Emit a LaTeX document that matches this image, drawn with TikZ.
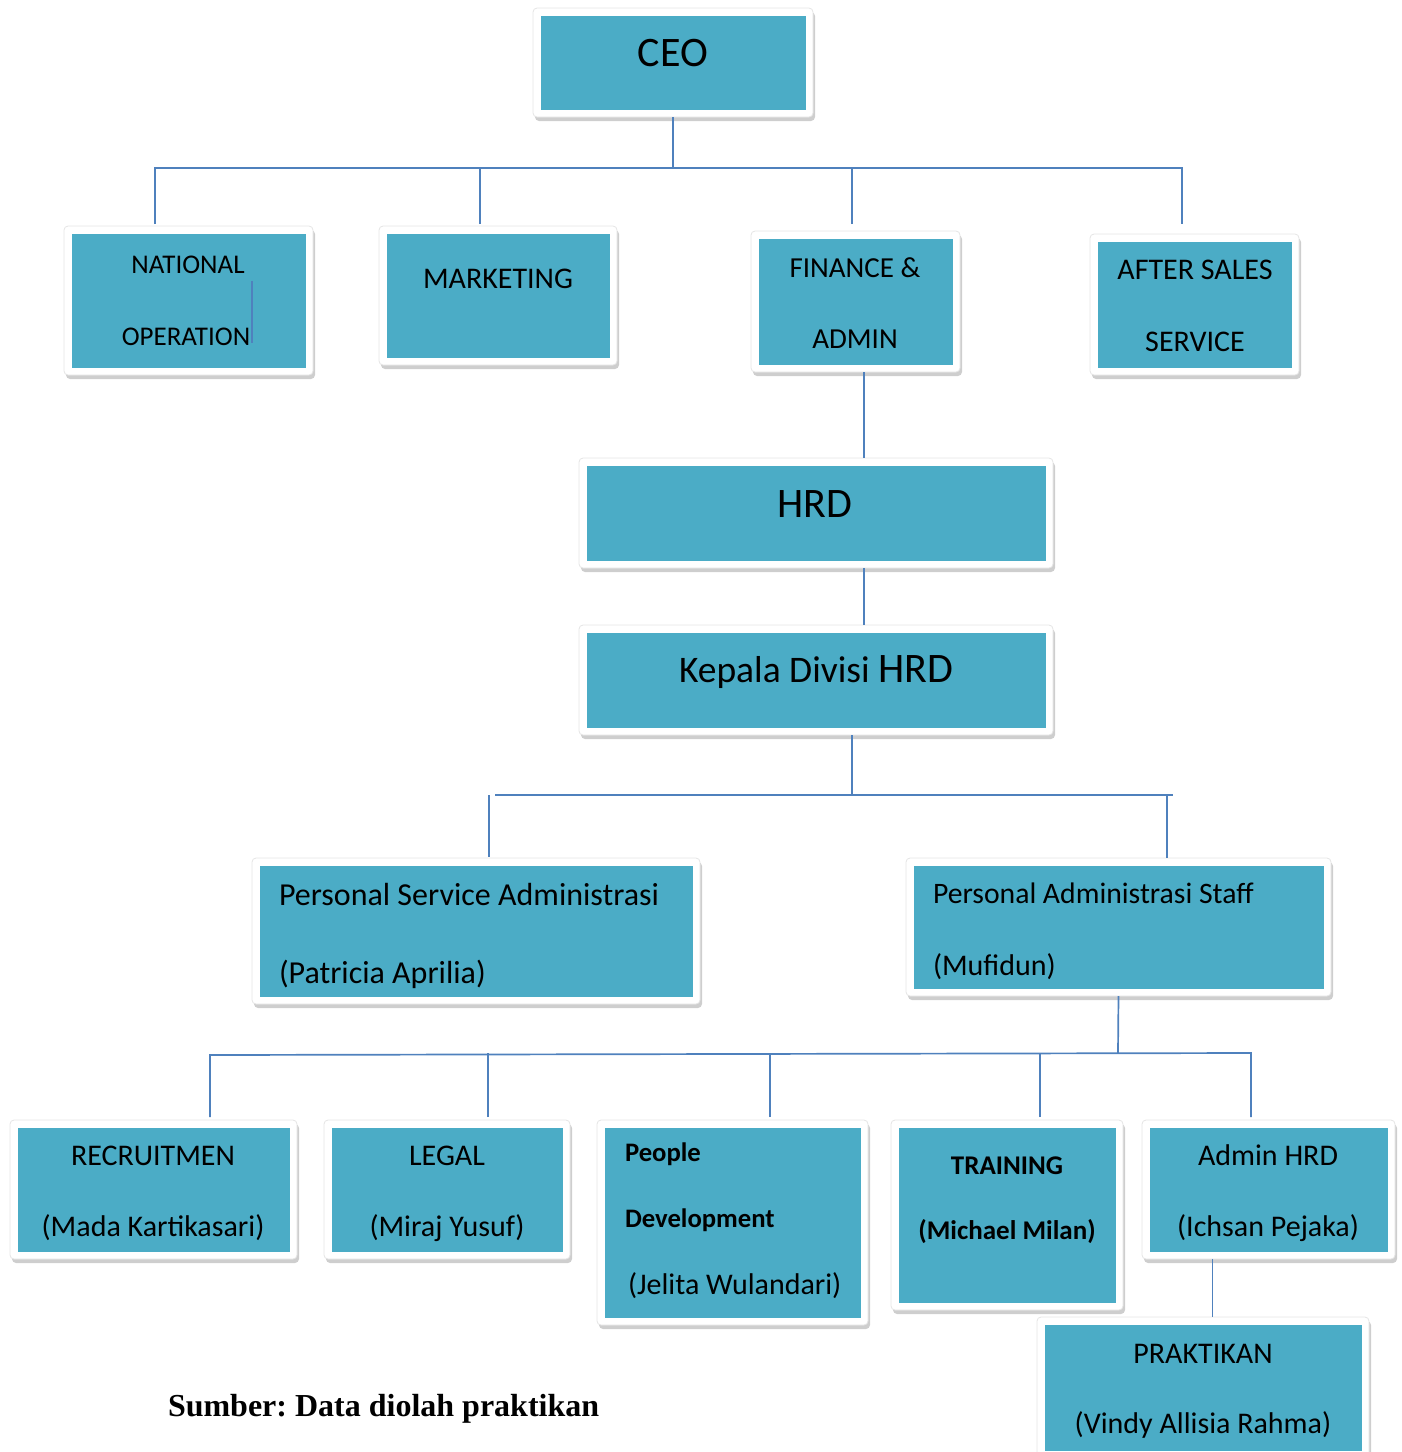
\documentclass[tikz,border=0pt]{standalone}
\usepackage{fontspec}
\setmainfont{Carlito}
\newfontfamily\srcfont{Liberation Serif}
\usetikzlibrary{shadows}
\definecolor{boxteal}{HTML}{4BACC6}
\definecolor{linkblue}{HTML}{4F81BD}
\frenchspacing

\begin{document}
\begin{tikzpicture}
[x=1pt,y=-1pt,every node/.style={inner sep=0pt,outer sep=0pt}]
\tikzset{unit/.style 2 args = {rectangle,rounded corners=4pt,fill=white,
    draw=black!10,line width=.8pt,
    minimum width=#1,minimum height=#2,
    drop shadow={shadow xshift=2pt,shadow yshift=-4pt,opacity=.35,fill=black!55},
    path picture={\fill[boxteal,sharp corners]
      ([xshift=7.5pt,yshift=7.5pt]path picture bounding box.south west) rectangle
      ([xshift=-7.5pt,yshift=-7.5pt]path picture bounding box.north east);}}}
\tikzset{lbl/.style = {anchor=base,font=\fontsize{30}{32}\selectfont}}
\tikzset{lbll/.style = {anchor=base west,font=\fontsize{30}{32}\selectfont}}
\tikzset{link/.style = {draw=linkblue,line width=1.7pt}}
\useasboundingbox (0,0) rectangle (1402,1452);
  % boxes
  \node[unit={280pt}{109pt}] (ceo) at (673,62.5){};
  \node[unit={249pt}{149pt}] (natop) at (188.5,300.5){};
  \node[unit={238pt}{139pt}] (mkt) at (498,295.5){};
  \node[unit={209pt}{141pt}] (fin) at (855.5,301.5){};
  \node[unit={209pt}{141pt}] (aft) at (1194.5,304.5){};
  \node[unit={474pt}{110pt}] (hrd) at (816,513){};
  \node[unit={474pt}{110pt}] (kadiv) at (816,680){};
  \node[unit={448pt}{146pt}] (psa) at (476,931){};
  \node[unit={425pt}{138pt}] (pas) at (1118.5,927){};
  \node[unit={287pt}{139pt}] (rec) at (153.5,1189.5){};
  \node[unit={246pt}{139pt}] (legal) at (447,1189.5){};
  \node[unit={271pt}{205pt}] (pdev) at (732.5,1222.5){};
  \node[unit={232pt}{190pt}] (train) at (1007,1215){};
  \node[unit={253pt}{139pt}] (admin) at (1268.5,1189.5){};
  \node[unit={332pt}{141pt}] (prak) at (1203,1387.5){};
  % texts
  \node[lbl,font=\fontsize{42}{44}\selectfont] (ceo-t) at (673,66){CEO};
  \node[lbl,font=\fontsize{27}{29}\selectfont] (natop-t1) at (188,273){NATIONAL};
  \node[lbl,font=\fontsize{27}{29}\selectfont] (natop-t2) at (186,345){OPERATION};
  \node[lbl] (mkt-t) at (498,288){MARKETING};
  \node[lbl,font=\fontsize{29}{31}\selectfont] (fin-t1) at (855,277){FINANCE \&};
  \node[lbl,font=\fontsize{29}{31}\selectfont] (fin-t2) at (855,348){ADMIN};
  \node[lbl] (aft-t1) at (1195,279){AFTER SALES};
  \node[lbl] (aft-t2) at (1195,351){SERVICE};
  \node[lbl,font=\fontsize{42}{44}\selectfont] (hrd-t) at (815,517){HRD};
  \node[lbl,font=\fontsize{37.5}{40}\selectfont] (kadiv-t) at (816,682){Kepala Divisi {\fontsize{42}{44}\selectfont HRD}};
  \node[lbll,font=\fontsize{32}{34}\selectfont] (psa-t1) at (279,905){Personal Service Administrasi};
  \node[lbll,font=\fontsize{32}{34}\selectfont] (psa-t2) at (279,983){(Patricia Aprilia)};
  \node[lbll,font=\fontsize{29.7}{32}\selectfont] (pas-t1) at (933,903){Personal Administrasi Staff};
  \node[lbll] (pas-t2) at (933,975){(Mufidun)};
  \node[lbl] (rec-t1) at (153,1165){RECRUITMEN};
  \node[lbl] (rec-t2) at (153,1236){(Mada Kartikasari)};
  \node[lbl] (legal-t1) at (447,1165){LEGAL};
  \node[lbl] (legal-t2) at (447,1236){(Miraj Yusuf)};
  \node[lbll,font=\fontsize{26.7}{28}\selectfont\bfseries] (pdev-t1) at (625,1161){People};
  \node[lbll,font=\fontsize{26.7}{28}\selectfont\bfseries] (pdev-t2) at (625,1227){Development};
  \node[lbll] (pdev-t3) at (628,1294){(Jelita Wulandari)};
  \node[lbl,font=\fontsize{27}{29}\selectfont\bfseries] (train-t1) at (1007,1174){TRAINING};
  \node[lbl,font=\fontsize{27}{29}\selectfont\bfseries] (train-t2) at (1007,1239){(Michael Milan)};
  \node[lbl] (admin-t1) at (1268,1165){Admin HRD};
  \node[lbl] (admin-t2) at (1268,1236){(Ichsan Pejaka)};
  \node[lbl] (prak-t1) at (1203,1363){PRAKTIKAN};
  \node[lbl] (prak-t2) at (1203,1433){(Vindy Allisia Rahma)};
  \node[lbll,font=\fontsize{32}{34}\selectfont\srcfont\bfseries] (src) at (168,1416){Sumber: Data diolah praktikan};
  % connectors
  \coordinate (top1) at (673,168);
  \coordinate (dn) at (155,224);
  \coordinate (dm) at (480,224);
  \coordinate (df) at (852,224);
  \coordinate (da) at (1182,224);
  \draw[link] (ceo) -- (top1);
  \draw[link] (dn) |- (top1) -| (da);
  \draw[link] (dm) -- (dm |- top1);
  \draw[link] (df) -- (df |- top1);
  \draw[link] ([xshift=8.5pt]fin.south) -- ([xshift=8.5pt]fin.south |- hrd.north);
  \draw[link] ([xshift=48pt]hrd.south) -- ([xshift=48pt]kadiv.north);
  \draw[link] (natop.center) ++(63.5,-20) -- ++(0,62);
  \coordinate (top2) at (852,795);
  \coordinate (bl2) at (495,795);
  \coordinate (br2) at (1173,795);
  \coordinate (dp) at (489,857);
  \coordinate (ds) at (1167,858);
  \draw[link] ([xshift=36pt]kadiv.south) -- (top2);
  \draw[link] (bl2) -- (br2);
  \draw[link] (dp |- bl2) -- (dp);
  \draw[link] (ds |- br2) -- (ds);
  \coordinate (top3) at (1118,1053);
  \coordinate (dr) at (210,1117);
  \coordinate (dl) at (488,1117);
  \coordinate (dd) at (770,1117);
  \coordinate (dt) at (1040,1117);
  \coordinate (dh) at (1251,1117);
  \draw[link] (pas.south) -- (top3);
  \draw[link] (dr) -- (210,1055) -- (1251,1053) -- (dh);
  \draw[link] (dl) -- (dl |- top3);
  \draw[link] (dd) -- (dd |- top3);
  \draw[link] (dt) -- (dt |- top3);
  \draw[link] ([xshift=-56pt]admin.south) -- ([xshift=-56pt]admin.south |- prak.north);
\end{tikzpicture}
\end{document}
